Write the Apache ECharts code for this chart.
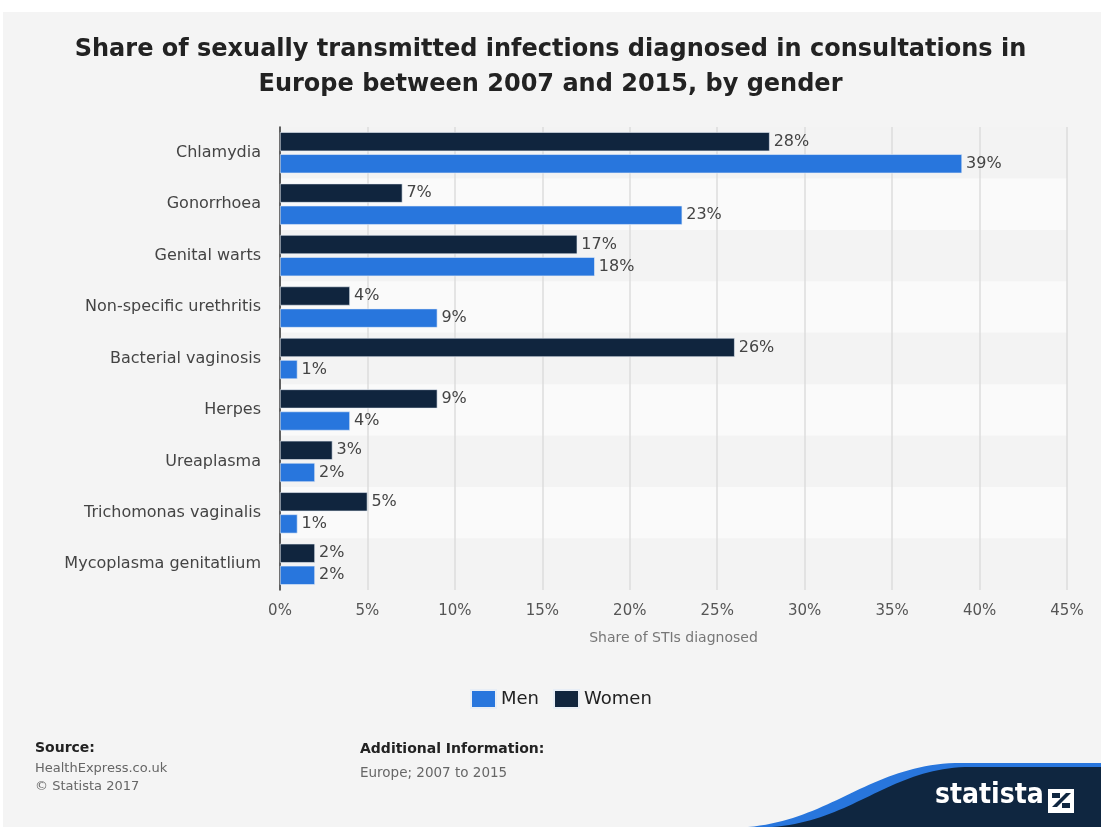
<!DOCTYPE html>
<html><head><meta charset="utf-8">
<script src="https://cdn.jsdelivr.net/npm/echarts@6/dist/echarts.min.js"></script>
<style>
html,body{margin:0;padding:0;background:#ffffff;}
#wrap{position:absolute;left:3px;top:12px;width:1098px;height:815px;background:#f4f4f4;overflow:hidden;}
#chart{position:absolute;left:-3px;top:-12px;width:1101px;height:827px;}
</style></head>
<body><div id="wrap"><div id="chart"></div></div>
<script>
const categories = ['Chlamydia','Gonorrhoea','Genital warts','Non-specific urethritis','Bacterial vaginosis','Herpes','Ureaplasma','Trichomonas vaginalis','Mycoplasma genitatlium'];
const men = [39, 23, 18, 9, 1, 4, 2, 1, 2];
const women = [28, 7, 17, 4, 26, 9, 3, 5, 2];
const xTicks = {min: 0, max: 45, interval: 5};

const FONT = 'DejaVu Sans';

function bezierPts(p0, p1, p2, p3, n) {
  const pts = [];
  for (let i = 0; i <= n; i++) {
    const t = i / n, u = 1 - t;
    pts.push([
      u*u*u*p0[0] + 3*u*u*t*p1[0] + 3*u*t*t*p2[0] + t*t*t*p3[0],
      u*u*u*p0[1] + 3*u*u*t*p1[1] + 3*u*t*t*p2[1] + t*t*t*p3[1]
    ]);
  }
  return pts;
}
const bluePts = bezierPts([748, 827], [830, 820], [870, 766], [955, 763], 40).concat([[1101, 763], [1101, 827]]);
const navyPts = bezierPts([772, 827], [852, 821], [888, 770], [965, 767], 40).concat([[1101, 767], [1101, 827]]);

const chart = echarts.init(document.getElementById('chart'), null, {renderer: 'canvas'});
const labelCfg = {show: true, position: 'right', distance: 4, formatter: '{c}%', fontFamily: FONT, fontSize: 16, color: '#444'};
chart.setOption({
  backgroundColor: 'transparent',
  animation: false,
  title: {
    text: 'Share of sexually transmitted infections diagnosed in consultations in\nEurope between 2007 and 2015, by gender',
    left: 'center', top: 27,
    textStyle: {fontFamily: FONT, fontSize: 24, fontWeight: 'bold', color: '#222', lineHeight: 35}
  },
  legend: {
    data: ['Men', 'Women'], left: 465, top: 684, icon: 'rect',
    itemWidth: 25, itemHeight: 18, itemGap: 14,
    textStyle: {fontFamily: FONT, fontSize: 18, color: '#222'}
  },
  grid: {left: 280, right: 34, top: 127, bottom: 237},
  xAxis: {
    type: 'value', min: xTicks.min, max: xTicks.max, interval: xTicks.interval,
    name: 'Share of STIs diagnosed', nameLocation: 'middle', nameGap: 41,
    nameTextStyle: {fontFamily: FONT, fontSize: 14, color: '#777'},
    axisLine: {show: false}, axisTick: {show: false},
    axisLabel: {formatter: '{value}%', fontFamily: FONT, fontSize: 15, color: '#555', margin: 14},
    splitLine: {show: true, lineStyle: {color: '#dcdcdc', width: 1.5}}
  },
  yAxis: {
    type: 'category', data: categories, inverse: true,
    axisLine: {show: true, lineStyle: {color: '#333', width: 1.5}},
    axisTick: {show: false},
    axisLabel: {fontFamily: FONT, fontSize: 16, color: '#444', margin: 19},
    splitArea: {show: true, areaStyle: {color: ['#f3f3f3', '#fafafa']}},
    splitLine: {show: false}
  },
  series: [
    {name: 'Women', type: 'bar', data: women, barGap: '16%', barCategoryGap: '20%',
     itemStyle: {color: '#10253e', borderColor: '#e8eef6', borderWidth: 0.6}, label: labelCfg, z: 3},
    {name: 'Men', type: 'bar', data: men, barGap: '16%', barCategoryGap: '20%',
     itemStyle: {color: '#2876dd', borderColor: '#e8eef6', borderWidth: 0.6}, label: labelCfg, z: 3}
  ],
  graphic: [
    {type: 'text', x: 35, y: 741, style: {text: 'Source:', font: 'bold 14px "DejaVu Sans"', fill: '#222'}},
    {type: 'text', x: 35, y: 762, style: {text: 'HealthExpress.co.uk', font: '13px "DejaVu Sans"', fill: '#666'}},
    {type: 'text', x: 35, y: 780, style: {text: '© Statista 2017', font: '13px "DejaVu Sans"', fill: '#666'}},
    {type: 'text', x: 360, y: 742, style: {text: 'Additional Information:', font: 'bold 14px "DejaVu Sans"', fill: '#222'}},
    {type: 'text', x: 360, y: 766, style: {text: 'Europe; 2007 to 2015', font: '13.5px "DejaVu Sans"', fill: '#666'}},
    {type: 'polygon', shape: {points: bluePts}, style: {fill: '#2876dd'}},
    {type: 'polygon', shape: {points: navyPts}, style: {fill: '#0f2640'}},
    {type: 'text', x: 935, y: 782, style: {text: 'statista', font: 'bold 28px "DejaVu Sans Condensed", "DejaVu Sans"', fill: '#ffffff'}},
    {type: 'rect', shape: {x: 1048, y: 789, width: 26, height: 24}, style: {fill: '#ffffff'}},
    {type: 'polygon', shape: {points: [[1052, 807], [1066, 793], [1071, 793], [1057, 807]]}, style: {fill: '#0f2640'}},
    {type: 'rect', shape: {x: 1052, y: 793, width: 8, height: 5}, style: {fill: '#0f2640'}},
    {type: 'rect', shape: {x: 1062, y: 803, width: 8, height: 5}, style: {fill: '#0f2640'}}
  ]
});
</script>
</body></html>
